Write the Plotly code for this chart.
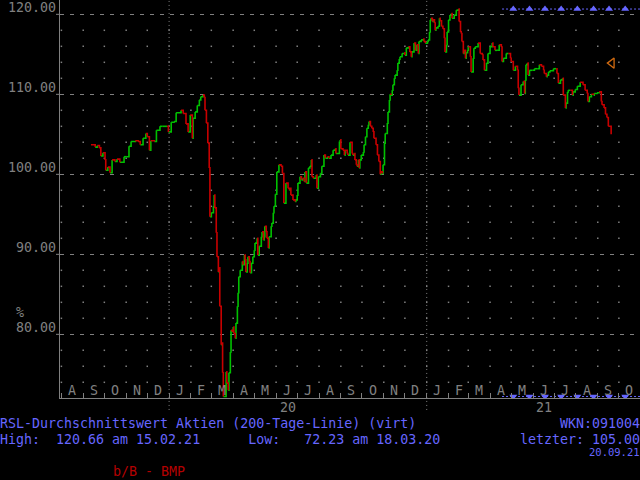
import plotly.graph_objects as go
import pandas as pd

# ---------------- data ----------------
dates_2019 = ["2019-09-12", "2019-09-18", "2019-09-21", "2019-09-24", "2019-09-26", "2019-09-29",
              "2019-10-02", "2019-10-03", "2019-10-06", "2019-10-09", "2019-10-12", "2019-10-16",
              "2019-10-19", "2019-10-23", "2019-10-29", "2019-11-02", "2019-11-05", "2019-11-08",
              "2019-11-14", "2019-11-18", "2019-11-21", "2019-11-25", "2019-11-29", "2019-12-01",
              "2019-12-04", "2019-12-06", "2019-12-11", "2019-12-14", "2019-12-19", "2019-12-23",
              "2019-12-29", "2019-12-31"]
rsl_2019 = [103.7, 103.4, 103.6, 103.3, 102.3, 102.7,
            101.8, 100.5, 100.9, 100.2, 101.8, 101.6,
            101.9, 101.5, 102.2, 102.2, 103.5, 104.1,
            104.2, 104.1, 103.7, 104.5, 105.1, 104.7,
            103.0, 104.2, 104.1, 105.5, 106.0, 106.0,
            106.0, 105.3]

dates_2020 = ["2020-01-04", "2020-01-08", "2020-01-11", "2020-01-18", "2020-01-21", "2020-01-25",
              "2020-01-28", "2020-01-31", "2020-02-03", "2020-02-04", "2020-02-07", "2020-02-10",
              "2020-02-13", "2020-02-15", "2020-02-18", "2020-02-20", "2020-02-21", "2020-02-23",
              "2020-02-25", "2020-02-27", "2020-02-28", "2020-03-01", "2020-03-04", "2020-03-05",
              "2020-03-06", "2020-03-08", "2020-03-09", "2020-03-11", "2020-03-12", "2020-03-13",
              "2020-03-15", "2020-03-16", "2020-03-17", "2020-03-18", "2020-03-22", "2020-03-23",
              "2020-03-25", "2020-03-26", "2020-03-28", "2020-03-29", "2020-03-31", "2020-04-01",
              "2020-04-02", "2020-04-04", "2020-04-05", "2020-04-07", "2020-04-08", "2020-04-09",
              "2020-04-11", "2020-04-14", "2020-04-15", "2020-04-17", "2020-04-18", "2020-04-19",
              "2020-04-21", "2020-04-22", "2020-04-24", "2020-04-25", "2020-04-27", "2020-04-29",
              "2020-05-01", "2020-05-02", "2020-05-05", "2020-05-06", "2020-05-08", "2020-05-11",
              "2020-05-12", "2020-05-14", "2020-05-15", "2020-05-16", "2020-05-18", "2020-05-19",
              "2020-05-21", "2020-05-22", "2020-05-25", "2020-05-26", "2020-05-28", "2020-05-29",
              "2020-05-31", "2020-06-02", "2020-06-05", "2020-06-08", "2020-06-10", "2020-06-12",
              "2020-06-15", "2020-06-18", "2020-06-20", "2020-06-21", "2020-06-22", "2020-06-25",
              "2020-06-28", "2020-06-29", "2020-07-01", "2020-07-02", "2020-07-05", "2020-07-07",
              "2020-07-09", "2020-07-11", "2020-07-12", "2020-07-14", "2020-07-17", "2020-07-19",
              "2020-07-21", "2020-07-22", "2020-07-24", "2020-07-28", "2020-07-29", "2020-07-31",
              "2020-08-03", "2020-08-05", "2020-08-08", "2020-08-10", "2020-08-13", "2020-08-15",
              "2020-08-18", "2020-08-21", "2020-08-24", "2020-08-25", "2020-08-30", "2020-08-31",
              "2020-09-01", "2020-09-04", "2020-09-06", "2020-09-07", "2020-09-10", "2020-09-11",
              "2020-09-14", "2020-09-17", "2020-09-18", "2020-09-20", "2020-09-21", "2020-09-23",
              "2020-09-24", "2020-09-26", "2020-09-27", "2020-09-28", "2020-09-30", "2020-10-03",
              "2020-10-04", "2020-10-06", "2020-10-08", "2020-10-10", "2020-10-11", "2020-10-13",
              "2020-10-15", "2020-10-17", "2020-10-18", "2020-10-21", "2020-10-23", "2020-10-25",
              "2020-10-27", "2020-10-28", "2020-10-30", "2020-10-31", "2020-11-02", "2020-11-03",
              "2020-11-06", "2020-11-07", "2020-11-09", "2020-11-10", "2020-11-11", "2020-11-13",
              "2020-11-14", "2020-11-16", "2020-11-17", "2020-11-20", "2020-11-21", "2020-11-23",
              "2020-11-24", "2020-11-27", "2020-11-30", "2020-12-01", "2020-12-03", "2020-12-06",
              "2020-12-08", "2020-12-10", "2020-12-11", "2020-12-14", "2020-12-16", "2020-12-18",
              "2020-12-20", "2020-12-21", "2020-12-24", "2020-12-27", "2020-12-28", "2020-12-30"]
rsl_2020 = [106.5, 106.6, 107.7, 108.0, 107.6, 106.3,
            105.3, 107.4, 104.5, 107.0, 107.8, 108.6,
            109.3, 109.7, 109.9, 109.6, 108.0, 106.4,
            103.9, 100.8, 94.7, 95.2, 96.0, 97.4,
            95.8, 92.7, 89.7, 87.8, 88.3, 83.5,
            78.7, 78.9, 75.2, 72.23, 75.3, 73.9,
            73.0, 75.2, 77.8, 80.5, 80.3, 80.9,
            80.1, 79.5, 81.4, 83.5, 85.2, 87.2,
            88.0, 89.1, 88.7, 89.9, 89.3, 87.8,
            88.9, 89.7, 89.1, 87.7, 88.9, 89.7,
            90.5, 91.4, 92.0, 89.9, 91.0, 92.2,
            92.8, 91.8, 92.2, 93.5, 92.8, 92.0,
            90.8, 92.2, 93.5, 93.9, 95.2, 96.0,
            97.5, 100.3, 101.2, 101.0, 100.1, 96.4,
            98.9, 98.25, 98.0, 98.25, 97.4, 96.8,
            96.6, 96.8, 97.4, 98.9, 99.7, 99.3,
            99.5, 99.1, 100.3, 98.9, 100.8, 101.0,
            101.8, 99.7, 99.5, 99.9, 98.25, 99.7,
            100.1, 101.0, 102.4, 102.0, 102.2, 102.0,
            102.4, 103.0, 103.2, 102.6, 104.1, 104.3,
            103.2, 103.0, 102.4, 103.0, 102.6, 102.4,
            104.0, 102.6, 102.4, 102.6, 101.8, 101.2,
            101.0, 101.8, 100.8, 101.8, 102.4, 102.8,
            103.7, 104.7, 105.75, 106.2, 106.6, 106.0,
            105.75, 105.3, 104.5, 103.7, 102.4, 101.6,
            100.0, 100.3, 100.1, 101.2, 103.9, 105.1,
            106.4, 107.8, 109.3, 110.0, 109.9, 110.5,
            111.2, 112.0, 112.4, 113.0, 113.9, 114.4,
            114.7, 115.1, 115.2, 114.9, 115.8, 115.95,
            115.3, 114.7, 115.3, 116.4, 115.5, 116.2,
            115.1, 116.6, 116.8, 116.9, 116.6, 116.4]

dates_2021 = ["2021-01-02", "2021-01-03", "2021-01-05", "2021-01-06", "2021-01-07", "2021-01-09",
              "2021-01-10", "2021-01-12", "2021-01-13", "2021-01-14", "2021-01-17", "2021-01-19",
              "2021-01-20", "2021-01-22", "2021-01-24", "2021-01-26", "2021-01-27", "2021-01-29",
              "2021-01-30", "2021-02-01", "2021-02-03", "2021-02-05", "2021-02-06", "2021-02-09",
              "2021-02-12", "2021-02-15", "2021-02-16", "2021-02-18", "2021-02-19", "2021-02-20",
              "2021-02-22", "2021-02-23", "2021-02-25", "2021-02-26", "2021-02-28", "2021-03-01",
              "2021-03-04", "2021-03-05", "2021-03-08", "2021-03-09", "2021-03-11", "2021-03-15",
              "2021-03-18", "2021-03-21", "2021-03-22", "2021-03-24", "2021-03-27", "2021-03-29",
              "2021-04-01", "2021-04-04", "2021-04-05", "2021-04-08", "2021-04-11", "2021-04-14",
              "2021-04-17", "2021-04-18", "2021-04-20", "2021-04-24", "2021-04-27", "2021-04-30",
              "2021-05-01", "2021-05-04", "2021-05-07", "2021-05-10", "2021-05-11", "2021-05-12",
              "2021-05-15", "2021-05-18", "2021-05-20", "2021-05-21", "2021-05-22", "2021-05-24",
              "2021-05-25", "2021-05-27", "2021-05-31", "2021-06-03", "2021-06-07", "2021-06-10",
              "2021-06-13", "2021-06-16", "2021-06-17", "2021-06-20", "2021-06-21", "2021-06-23",
              "2021-06-25", "2021-06-30", "2021-07-04", "2021-07-05", "2021-07-07", "2021-07-10",
              "2021-07-13", "2021-07-14", "2021-07-17", "2021-07-18", "2021-07-20", "2021-07-21",
              "2021-07-24", "2021-07-27", "2021-07-28", "2021-07-31", "2021-08-03", "2021-08-07",
              "2021-08-11", "2021-08-14", "2021-08-17", "2021-08-18", "2021-08-20", "2021-08-23",
              "2021-08-26", "2021-08-27", "2021-08-31", "2021-09-03", "2021-09-06", "2021-09-07",
              "2021-09-10", "2021-09-12", "2021-09-14", "2021-09-16", "2021-09-20"]
rsl_2021 = [116.6, 116.8, 117.8, 119.3, 119.5, 119.1,
            119.3, 118.9, 118.0, 118.3, 118.5, 119.5,
            119.2, 118.5, 118.2, 117.0, 115.3, 116.2,
            117.8, 119.3, 119.9, 120.1, 119.5, 119.9,
            120.5, 120.66, 119.1, 117.8, 117.6, 116.6,
            115.1, 115.5, 114.5, 115.2, 115.5, 115.95,
            114.7, 112.8, 114.5, 115.75, 115.95, 116.4,
            115.1, 114.9, 114.3, 113.0, 113.9, 115.1,
            115.95, 116.4, 115.95, 115.5, 115.5, 116.2,
            115.9, 114.1, 114.5, 115.1, 115.1, 114.5,
            114.1, 113.0, 113.5, 113.0, 110.75, 109.9,
            111.2, 111.6, 110.1, 111.8, 113.7, 113.9,
            112.4, 113.0, 113.0, 113.2, 113.2, 113.7,
            113.5, 113.0, 112.6, 112.2, 112.4, 112.8,
            112.95, 113.2, 113.2, 112.6, 111.4, 111.8,
            112.0, 109.9, 108.3, 108.9, 110.3, 110.5,
            110.5, 109.9, 110.3, 110.6, 111.0, 111.5,
            111.2, 110.5, 110.1, 109.1, 109.7, 110.0,
            109.9, 110.1, 110.2, 110.3, 109.1, 108.7,
            108.3, 107.5, 107.1, 106.0, 105.0]

month_letters = ["A", "S", "O", "N", "D", "J", "F", "M", "A", "M", "J", "J", "A", "S", "O",
                 "N", "D", "J", "F", "M", "A", "M", "J", "J", "A", "S", "O"]
year_labels = ["19", "20", "21"]
year_label_dates = ["2019-06-20", "2020-06-18", "2021-06-16"]
year_breaks = ["2020-01-01", "2021-01-01"]
y_tick_values = [80, 90, 100, 110, 120]

title_text = "RSL-Durchschnittswert Aktien (200-Tage-Linie) (virt)"
wkn_text = "WKN:091004"
high_value, high_date = 120.66, "15.02.21"
low_value, low_date = 72.23, "18.03.20"
last_value, last_date = 105.00, "20.09.21"
source_text = "b/B - BMP"

signal_start = "2021-04-18"
signal_marks = ["2021-05-04", "2021-05-27", "2021-06-18", "2021-07-11",
                "2021-08-03", "2021-08-26", "2021-09-17", "2021-10-10"]
target_date, target_value = "2021-09-21", 113.9

x_range = ["2019-07-30", "2021-10-31"]
y_range = [72.04, 121.79]

# ---------------- build ----------------
dates = dates_2019 + dates_2020 + dates_2021
rsl = rsl_2019 + rsl_2020 + rsl_2021
assert len(dates) == len(rsl)

GREEN = "#00c000"
RED = "#c80000"
GRAY = "#808080"
BLUE = "#6666ff"
MONO = "DejaVu Sans Mono"

gx, gy, rx, ry = [], [], [], []
for i in range(1, len(dates)):
    sx = [dates[i - 1], dates[i], dates[i], None]
    sy = [rsl[i - 1], rsl[i - 1], rsl[i], None]
    if rsl[i] >= rsl[i - 1]:
        gx += sx; gy += sy
    else:
        rx += sx; ry += sy

month_starts = pd.date_range("2019-08-01", "2021-10-01", freq="MS")
month_mids = [d + pd.Timedelta(days=15) for d in month_starts]
minor_levels = [v for v in range(74, 122, 2) if v % 10]
dot_x, dot_y = [], []
for d in month_starts:
    for v in minor_levels:
        dot_x.append(d); dot_y.append(v)

fig = go.Figure()
fig.add_trace(go.Scatter(x=dot_x, y=dot_y, mode="markers",
                         marker=dict(size=1.5, color=GRAY, symbol="square", line=dict(width=0)),
                         hoverinfo="skip"))
for lvl, sym in [(high_value, "triangle-up"), (low_value, "triangle-down")]:
    fig.add_trace(go.Scatter(x=[signal_start, x_range[1]], y=[lvl, lvl], mode="lines",
                             line=dict(color=BLUE, width=1, dash="2px,2px"), hoverinfo="skip"))
    fig.add_trace(go.Scatter(x=signal_marks, y=[lvl] * len(signal_marks), mode="markers",
                             marker=dict(symbol=sym, size=7, color=BLUE, line=dict(width=0)),
                             hoverinfo="skip"))
fig.add_trace(go.Scatter(x=gx, y=gy, mode="lines", line=dict(color=GREEN, width=1.6),
                         connectgaps=False, hoverinfo="skip"))
fig.add_trace(go.Scatter(x=rx, y=ry, mode="lines", line=dict(color=RED, width=1.6),
                         connectgaps=False, hoverinfo="skip"))
fig.add_trace(go.Scatter(x=[target_date], y=[target_value], mode="markers",
                         marker=dict(symbol="triangle-left-open", size=9, color="#d06a10",
                                     line=dict(width=1.3, color="#d06a10")),
                         hoverinfo="skip"))

for yb in year_breaks:
    fig.add_shape(type="line", xref="x", yref="paper", x0=yb, x1=yb, y0=-0.03, y1=1,
                  line=dict(color=GRAY, width=1, dash="1px,3px"), layer="below")
# y-axis tick marks (outside, left of the axis line)
for v in y_tick_values:
    fig.add_shape(type="line", xref="paper", yref="y", x0=-4 / 580, x1=0, y0=v, y1=v,
                  line=dict(color=GRAY, width=1))

annotations = []
# y tick labels, sitting just above their grid lines
for v in y_tick_values:
    annotations.append(dict(x=0, y=v, xref="paper", yref="y", text=f"{v:.2f}", showarrow=False,
                            xanchor="right", yanchor="middle", xshift=-2, yshift=7,
                            font=dict(family=MONO, size=13.3, color=GRAY)))
for d, letter in zip(month_mids, month_letters):
    annotations.append(dict(x=d, y=0, xref="x", yref="paper", text=letter, showarrow=False,
                            xanchor="center", yanchor="bottom", yshift=-2,
                            font=dict(family=MONO, size=13.3, color=GRAY)))
for d, lab in zip(year_label_dates, year_labels):
    annotations.append(dict(x=d, y=0, xref="x", yref="paper", text=lab, showarrow=False,
                            xanchor="center", yanchor="middle", yshift=-9,
                            font=dict(family=MONO, size=13.3, color=GRAY)))
annotations.append(dict(x=0, y=0, xref="paper", yref="paper", text="%", showarrow=False,
                        xanchor="center", yanchor="middle", xshift=-40, yshift=86,
                        font=dict(family=MONO, size=13.3, color=GRAY)))

NB = "\u00a0"
line1 = title_text
line2 = ("High:" + NB * 2 + f"{high_value:.2f} am {high_date}" + NB * 6 +
         "Low:" + NB * 3 + f"{low_value:.2f} am {low_date}").replace(" ", NB)
for text, yshift, anchor, color, size, xs in [
    (line1.replace(" ", NB), -25, "left", BLUE, 13.3, -61),
    (line2, -41, "left", BLUE, 13.3, -61),
    (wkn_text, -25, "right", BLUE, 13.3, 1),
    (f"letzter:{NB}{last_value:.2f}", -41, "right", BLUE, 13.3, 1),
    (last_date, -54, "right", BLUE, 10.5, 1),
]:
    annotations.append(dict(x=0 if anchor == "left" else 1, y=0, xref="paper", yref="paper",
                            text=text, showarrow=False, xanchor=anchor, yanchor="middle",
                            xshift=xs, yshift=yshift, borderpad=0,
                            font=dict(family=MONO, size=size, color=color)))
annotations.append(dict(x=0, y=0, xref="paper", yref="paper", text=source_text.replace(" ", NB),
                        showarrow=False, xanchor="left", yanchor="middle", xshift=51, yshift=-73,
                        font=dict(family=MONO, size=13.3, color="#b40000")))

fig.update_layout(
    width=640, height=480,
    margin=dict(l=60, r=0, t=0, b=82),
    paper_bgcolor="#000000", plot_bgcolor="#000000",
    showlegend=False,
    annotations=annotations,
    xaxis=dict(range=x_range, type="date", tickvals=list(month_starts), showticklabels=False,
               ticks="inside", ticklen=5, tickcolor=GRAY, tickwidth=1,
               showgrid=False, zeroline=False, showline=True, linecolor=GRAY, linewidth=1),
    yaxis=dict(range=y_range, tickvals=y_tick_values, showticklabels=False, ticks="",
               showgrid=True, gridcolor=GRAY, gridwidth=1, griddash="4px,6px",
               zeroline=False, showline=True, linecolor=GRAY, linewidth=1),
)

fig.write_html("out.html", config={"displayModeBar": False},
               post_script="document.body.style.margin='0';document.body.style.background='#000';"
                           "document.body.style.overflow='hidden';")
